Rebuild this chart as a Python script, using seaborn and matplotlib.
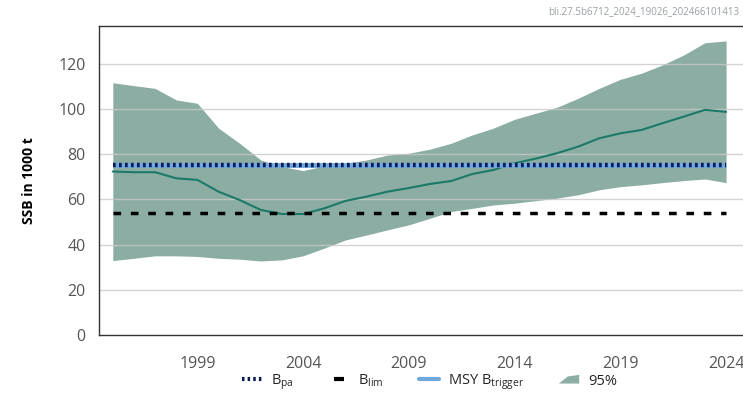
import numpy as np
import pandas as pd
import matplotlib
matplotlib.use("Agg")
import matplotlib.pyplot as plt
import seaborn as sns
from matplotlib.lines import Line2D
from matplotlib.patches import Polygon
from matplotlib.legend_handler import HandlerBase

# --- Data ---
years = list(range(1995, 2025))
ssb_median = [72.3, 72.0, 72.0, 69.3, 68.6, 63.4, 59.7, 55.3, 53.5, 53.5,
              56.0, 59.3, 61.2, 63.4, 65.0, 66.8, 68.1, 71.2, 73.0, 76.0,
              78.0, 80.4, 83.3, 87.0, 89.2, 90.7, 93.7, 96.6, 99.6, 98.7]
ssb_high = [111.6, 110.3, 109.1, 104.0, 102.5, 91.5, 84.8, 77.4, 74.5, 72.7,
            74.8, 76.0, 77.4, 79.6, 80.4, 82.2, 84.8, 88.5, 91.5, 95.4,
            98.1, 100.7, 104.7, 109.1, 113.1, 115.8, 119.5, 123.9, 129.3, 130.1]
ssb_low = [32.9, 33.9, 35.0, 35.0, 34.7, 33.9, 33.5, 32.7, 33.2, 35.0,
           38.4, 42.0, 44.2, 46.5, 48.7, 51.6, 54.6, 56.0, 57.5, 58.3,
           59.4, 60.5, 62.0, 64.2, 65.6, 66.4, 67.4, 68.3, 69.0, 67.4]
b_pa = 75.0
b_lim = 54.0
msy_btrigger = 75.0
x_ticks = [1999, 2004, 2009, 2014, 2019, 2024]
y_ticks = [0, 20, 40, 60, 80, 100, 120]
stamp = "bli.27.5b6712_2024_19026_202466101413"

# --- Colours ---
BAND = "#8cada3"
LINE = "#1b7a68"
BPA = "#0b1a55"
MSY = "#6fa8dc"


class HandlerWedge(HandlerBase):
    """Small rising-wedge patch for the confidence band legend entry."""
    def create_artists(self, legend, orig_handle, xdescent, ydescent,
                       width, height, fontsize, trans):
        pts = [[-xdescent, -ydescent + 0.1 * height],
               [-xdescent + width, -ydescent + 0.1 * height],
               [-xdescent + width, -ydescent + 0.95 * height],
               [-xdescent + 0.45 * width, -ydescent + 0.8 * height]]
        p = Polygon(pts, closed=True, facecolor=BAND, edgecolor="none",
                    transform=trans)
        return [p]


def make_plot(save_path="out.png"):
    sns.set_style("white")
    plt.rcParams["font.family"] = ["Open Sans", "DejaVu Sans"]
    plt.rcParams["mathtext.default"] = "regular"

    df = pd.DataFrame({"year": years, "ssb": ssb_median,
                       "low": ssb_low, "high": ssb_high})

    fig = plt.figure(figsize=(7.43, 3.94), dpi=100)
    ax = fig.add_axes([0.1333, 0.150, 0.8667, 0.784])

    ax.fill_between(df["year"], df["low"], df["high"], color=BAND,
                    linewidth=0, zorder=1)
    for yv in y_ticks[1:]:
        ax.axhline(yv, color="#c8c8c8", linewidth=1.0, alpha=0.8, zorder=1.5)
    sns.lineplot(data=df, x="year", y="ssb", color=LINE, linewidth=1.5,
                 ax=ax, zorder=3)

    ref_x = [years[0], years[-1]]
    ax.plot(ref_x, [msy_btrigger] * 2, color=MSY, linewidth=3.5, zorder=4,
            solid_capstyle="butt")
    ax.plot(ref_x, [b_pa] * 2, color=BPA, linewidth=3.2, zorder=5,
            linestyle=(0, (0.6, 0.75)))
    ax.plot(ref_x, [b_lim] * 2, color="black", linewidth=2.5, zorder=5,
            linestyle=(0, (2.2, 2.8)))

    ax.set_xlim(1994.35, 2024.8)
    ax.set_ylim(0, 136.7)
    ax.set_xticks(x_ticks)
    ax.set_yticks(y_ticks)
    ax.set_xlabel("")
    ax.set_ylabel("SSB in 1000 t", fontsize=10, fontweight="bold",
                  color="black", labelpad=16)

    for side in ["left", "bottom", "top"]:
        ax.spines[side].set_visible(True)
        ax.spines[side].set_color("#333333")
        ax.spines[side].set_linewidth(1.0)
    ax.spines["right"].set_visible(False)
    ax.tick_params(axis="both", which="both", direction="out", length=6,
                   width=1.0, colors="#333333", labelcolor="#555555",
                   labelsize=11.5)
    ax.tick_params(axis="x", pad=9, color="#777777")

    fig.text(0.995, 0.97, stamp, ha="right", va="center", fontsize=7,
             color="#9aa0a6")

    handles = [
        Line2D([], [], color=BPA, linewidth=3, linestyle=(0, (0.6, 0.75))),
        Line2D([], [], color="black", marker="_", markersize=7,
               markeredgewidth=3, linestyle="none"),
        Line2D([], [], color=MSY, linewidth=3),
        Polygon([[0, 0]], facecolor=BAND),
    ]
    labels = ["B$_{pa}$", "B$_{lim}$", "MSY B$_{trigger}$", "95%"]
    fig.legend(handles, labels, loc="center", bbox_to_anchor=(0.578, 0.03),
               ncol=4, frameon=False, fontsize=10.5, handlelength=1.4,
               handletextpad=0.6, columnspacing=2.4,
               handler_map={Polygon: HandlerWedge()})

    fig.savefig(save_path, dpi=100)
    plt.close(fig)


if __name__ == "__main__":
    make_plot()
